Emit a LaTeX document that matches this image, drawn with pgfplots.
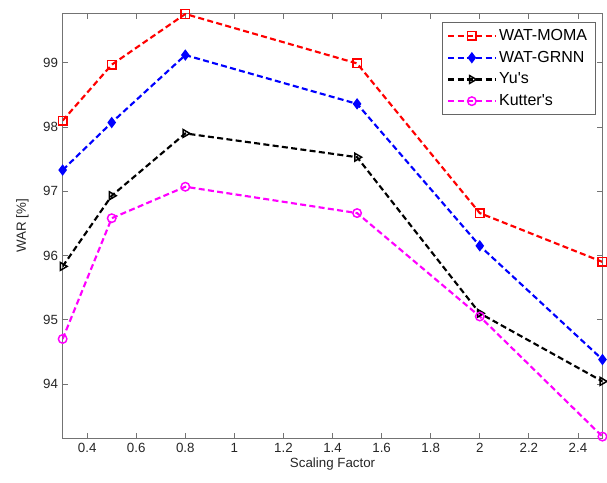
\documentclass[border=0pt]{standalone}
\usepackage{fontspec}
\setmainfont{Liberation Sans}
\usepackage{pgfplots}
\pgfplotsset{compat=1.18}
\definecolor{mmag}{rgb}{1,0,1}
\definecolor{mred}{rgb}{1,0,0}
\definecolor{mblue}{rgb}{0,0,1}

\begin{document}
\begin{tikzpicture}
\begin{axis}[
    scale only axis,
    width=405pt,
    height=319pt,
    xmin=0.3, xmax=2.5,
    ymin=93.15, ymax=99.77,
    xtick={0.4,0.6,...,2.41},
    ytick={94,95,96,97,98,99},
    tick align=inside,
    major tick length=4pt,
    axis line style={black!55, line width=0.8pt},
    tick style={black!55, line width=0.6pt},
    every tick label/.append style={font=\fontsize{10}{12}\selectfont, text=black!85},
    /pgf/number format/assume math mode=true,
    xlabel={Scaling Factor},
    ylabel={WAR [\%]},
    label style={font=\fontsize{10}{12}\selectfont, text=black!85},
    xlabel style={yshift=3pt},
    ylabel style={yshift=4pt},
    legend style={
        at={(0.987,0.979)}, anchor=north east,
        draw=black!60, line width=0.6pt,
        font=\fontsize{12}{14}\selectfont,
        row sep=2.5pt,
        inner xsep=4pt, inner ysep=3pt,
    },
    legend cell align=left,
    legend image code/.code={%
        \draw[mark repeat=2, mark phase=2]
        plot coordinates {(0cm,0cm) (0.62cm,0cm) (1.24cm,0cm)};},
    every axis plot/.append style={line width=1.6pt, dash pattern=on 4.5pt off 2.5pt},
]
\addplot[mred, mark=square, mark size=3.2pt, mark options={solid, line width=1.1pt}]
coordinates {(0.3,98.10) (0.5,98.97) (0.8,99.76) (1.5,98.99) (2,96.66) (2.5,95.90)};
\addlegendentry{WAT-MOMA}
\addplot[mblue, mark=diamond*, mark size=3pt, mark options={solid}]
coordinates {(0.3,97.33) (0.5,98.07) (0.8,99.12) (1.5,98.36) (2,96.15) (2.5,94.38)};
\addlegendentry{WAT-GRNN}
\addplot[black, mark=triangle, mark size=3.4pt, mark options={solid, rotate=-90, line width=1.1pt}]
coordinates {(0.3,95.83) (0.5,96.93) (0.8,97.90) (1.5,97.53) (2,95.10) (2.5,94.04)};
\addlegendentry{Yu\textquotesingle s}
\addplot[mmag, mark=o, mark size=3.2pt, mark options={solid, line width=1.1pt}]
coordinates {(0.3,94.70) (0.5,96.58) (0.8,97.07) (1.5,96.66) (2,95.05) (2.5,93.18)};
\addlegendentry{Kutter\textquotesingle s}
\end{axis}
\path (current axis.south west) ++(-47pt,-33pt) coordinate (bl);
\path (current axis.north east) ++(3pt,10pt) coordinate (tr);
\useasboundingbox (bl) rectangle (tr);
\end{tikzpicture}
\end{document}
